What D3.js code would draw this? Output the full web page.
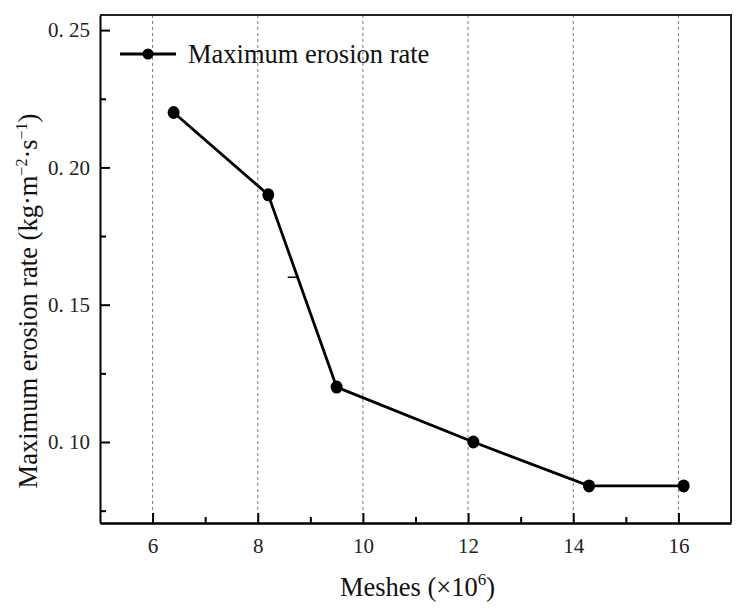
<!DOCTYPE html>
<html>
<head>
<meta charset="utf-8">
<script src="https://cdn.jsdelivr.net/npm/d3@7"></script>
<style>
  body { margin: 0; background: #fff; }
  svg { display: block; font-family: "Liberation Serif", "Times New Roman", serif; }
  .axis path, .axis line { stroke: #000; }
  .axis text { font-size: 21px; fill: #222; font-family: "Liberation Serif", serif; }
</style>
</head>
<body>
<svg id="chart" width="744" height="608"></svg>
<script>
// data
const MESHES = [6.4, 8.2, 9.5, 12.1, 14.3, 16.1];
const EROSION_RATE = [0.220, 0.190, 0.120, 0.100, 0.084, 0.084];
const X_TICKS = [6, 8, 10, 12, 14, 16];
const X_MINOR = [7, 9, 11, 13, 15];
const Y_TICKS = [0.10, 0.15, 0.20, 0.25];
const Y_MINOR = [0.075, 0.125, 0.175, 0.225];
// short stray dash left of the steep segment in the original figure
const STRAY_X = [8.57, 8.78];
const STRAY_Y = [0.160, 0.160];

const X_DOMAIN = [5, 17];
const Y_DOMAIN = [0.0705, 0.2555];

const margin = { left: 100, right: 13, top: 15, bottom: 85 };
const W = 744, H = 608;

const svg = d3.select("#chart");
const x = d3.scaleLinear().domain(X_DOMAIN).range([margin.left, W - margin.right]);
const y = d3.scaleLinear().domain(Y_DOMAIN).range([H - margin.bottom, margin.top]);

const top_y = y.range()[1], bot_y = y.range()[0];
const left_x = x.range()[0], right_x = x.range()[1];

// vertical dashed grid
svg.append("g")
    .selectAll("line")
    .data(X_TICKS)
    .enter()
    .append("line")
    .attr("x1", (d) => x(d))
    .attr("x2", (d) => x(d))
    .attr("y1", top_y)
    .attr("y2", bot_y)
    .attr("stroke", "#777")
    .attr("stroke-width", 1)
    .attr("stroke-dasharray", "3,3");

// top and right frame
svg.append("path")
    .attr("d", `M${left_x},${top_y}H${right_x}V${bot_y}`)
    .attr("fill", "none")
    .attr("stroke", "#222")
    .attr("stroke-width", 2);

const fmt = (d) => d3.format(".2f")(d).replace(".", ". ");

// y axis (ticks inward)
svg.append("g")
    .attr("class", "axis")
    .attr("transform", `translate(${left_x},0)`)
    .call(d3.axisLeft(y).tickValues(Y_TICKS).tickSizeInner(-10).tickSizeOuter(0).tickPadding(10).tickFormat(fmt))
    .call((g) => g.selectAll("line").attr("stroke-width", 2))
    .call((g) => g.select(".domain").attr("stroke-width", 2));

svg.append("g")
    .attr("class", "axis")
    .attr("transform", `translate(${left_x},0)`)
    .call(d3.axisLeft(y).tickValues(Y_MINOR).tickSizeInner(-6).tickSizeOuter(0).tickFormat(""))
    .call((g) => g.selectAll("line").attr("stroke-width", 2))
    .call((g) => g.select(".domain").remove());

// x axis (ticks inward)
svg.append("g")
    .attr("class", "axis")
    .attr("transform", `translate(0,${bot_y})`)
    .call(d3.axisBottom(x).tickValues(X_TICKS).tickSizeInner(-10).tickSizeOuter(0).tickPadding(15).tickFormat(d3.format("d")))
    .call((g) => g.selectAll("line").attr("stroke-width", 2))
    .call((g) => g.select(".domain").attr("stroke-width", 2.5));

svg.append("g")
    .attr("class", "axis")
    .attr("transform", `translate(0,${bot_y})`)
    .call(d3.axisBottom(x).tickValues(X_MINOR).tickSizeInner(-6).tickSizeOuter(0).tickFormat(""))
    .call((g) => g.selectAll("line").attr("stroke-width", 2))
    .call((g) => g.select(".domain").remove());

// series
const points = MESHES.map((m, i) => [m, EROSION_RATE[i]]);
const line = d3.line().x((d) => x(d[0])).y((d) => y(d[1]));

svg.append("path")
    .datum(points)
    .attr("d", line)
    .attr("fill", "none")
    .attr("stroke", "#000")
    .attr("stroke-width", 2.8)
    .attr("stroke-linejoin", "round");

svg.append("g")
    .selectAll("ellipse")
    .data(points)
    .enter()
    .append("ellipse")
    .attr("cx", (d) => x(d[0]))
    .attr("cy", (d) => y(d[1]))
    .attr("rx", 6)
    .attr("ry", 6.5)
    .attr("fill", "#000");

svg.append("path")
    .datum(STRAY_X.map((v, i) => [v, STRAY_Y[i]]))
    .attr("d", line)
    .attr("stroke", "#000")
    .attr("stroke-width", 1.5);

// legend
const lg = svg.append("g").attr("transform", "translate(120,54)");
lg.append("line").attr("x1", 0).attr("x2", 56).attr("y1", 0).attr("y2", 0)
    .attr("stroke", "#000").attr("stroke-width", 3);
lg.append("circle").attr("cx", 28).attr("cy", 0).attr("r", 5.5).attr("fill", "#000");
lg.append("text")
    .attr("x", 68)
    .attr("y", 9)
    .attr("font-size", 26.5)
    .attr("fill", "#111")
    .text("Maximum erosion rate");

// axis titles
const xt = svg.append("text")
    .attr("x", (left_x + right_x) / 2 + 2)
    .attr("y", 596)
    .attr("text-anchor", "middle")
    .attr("font-size", 26.5)
    .attr("fill", "#111");
xt.append("tspan").text("Meshes (×10");
xt.append("tspan").attr("dy", -11).attr("font-size", 17).text("6");
xt.append("tspan").attr("dy", 11).text(")");

const yt = svg.append("text")
    .attr("transform", "translate(37,301) rotate(-90)")
    .attr("text-anchor", "middle")
    .attr("font-size", 26.5)
    .attr("fill", "#111");
yt.append("tspan").text("Maximum erosion rate (kg·m");
yt.append("tspan").attr("dy", -10).attr("font-size", 16).text("−2");
yt.append("tspan").attr("dy", 10).text("·s");
yt.append("tspan").attr("dy", -10).attr("font-size", 16).text("−1");
yt.append("tspan").attr("dy", 10).text(")");
</script>
</body>
</html>
